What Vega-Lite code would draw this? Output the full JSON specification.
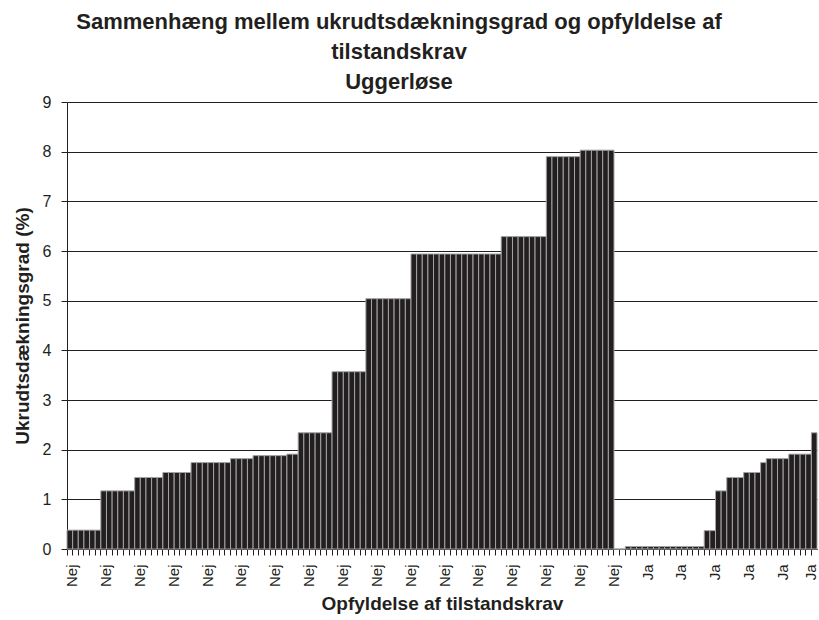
{
  "$schema": "https://vega.github.io/schema/vega-lite/v6.json",
  "width": 750,
  "height": 447,
  "autosize": "none",
  "padding": {"left": 67, "top": 102, "right": 2, "bottom": 71},
  "background": "white",
  "title": {
    "text": ["Sammenhæng mellem ukrudtsdækningsgrad og opfyldelse af", "tilstandskrav", "Uggerløse"],
    "font": "Liberation Sans",
    "fontSize": 22,
    "fontWeight": "bold",
    "color": "#231f20",
    "lineHeight": 30,
    "anchor": "middle",
    "dx": -43,
    "offset": 0
  },
  "config": {
    "view": {"stroke": null},
    "axis": {"labelFont": "Liberation Sans", "titleFont": "Liberation Sans", "labelColor": "#231f20", "titleColor": "#231f20"}
  },
  "data": {
    "values": [
      {"k": "000 Nej", "krav": "Nej", "v": 0.38},
      {"k": "001 Nej", "krav": "Nej", "v": 0.38},
      {"k": "002 Nej", "krav": "Nej", "v": 0.38},
      {"k": "003 Nej", "krav": "Nej", "v": 0.38},
      {"k": "004 Nej", "krav": "Nej", "v": 0.38},
      {"k": "005 Nej", "krav": "Nej", "v": 0.38},
      {"k": "006 Nej", "krav": "Nej", "v": 1.17},
      {"k": "007 Nej", "krav": "Nej", "v": 1.17},
      {"k": "008 Nej", "krav": "Nej", "v": 1.17},
      {"k": "009 Nej", "krav": "Nej", "v": 1.17},
      {"k": "010 Nej", "krav": "Nej", "v": 1.17},
      {"k": "011 Nej", "krav": "Nej", "v": 1.17},
      {"k": "012 Nej", "krav": "Nej", "v": 1.44},
      {"k": "013 Nej", "krav": "Nej", "v": 1.44},
      {"k": "014 Nej", "krav": "Nej", "v": 1.44},
      {"k": "015 Nej", "krav": "Nej", "v": 1.44},
      {"k": "016 Nej", "krav": "Nej", "v": 1.44},
      {"k": "017 Nej", "krav": "Nej", "v": 1.54},
      {"k": "018 Nej", "krav": "Nej", "v": 1.54},
      {"k": "019 Nej", "krav": "Nej", "v": 1.54},
      {"k": "020 Nej", "krav": "Nej", "v": 1.54},
      {"k": "021 Nej", "krav": "Nej", "v": 1.54},
      {"k": "022 Nej", "krav": "Nej", "v": 1.74},
      {"k": "023 Nej", "krav": "Nej", "v": 1.74},
      {"k": "024 Nej", "krav": "Nej", "v": 1.74},
      {"k": "025 Nej", "krav": "Nej", "v": 1.74},
      {"k": "026 Nej", "krav": "Nej", "v": 1.74},
      {"k": "027 Nej", "krav": "Nej", "v": 1.74},
      {"k": "028 Nej", "krav": "Nej", "v": 1.74},
      {"k": "029 Nej", "krav": "Nej", "v": 1.82},
      {"k": "030 Nej", "krav": "Nej", "v": 1.82},
      {"k": "031 Nej", "krav": "Nej", "v": 1.82},
      {"k": "032 Nej", "krav": "Nej", "v": 1.82},
      {"k": "033 Nej", "krav": "Nej", "v": 1.88},
      {"k": "034 Nej", "krav": "Nej", "v": 1.88},
      {"k": "035 Nej", "krav": "Nej", "v": 1.88},
      {"k": "036 Nej", "krav": "Nej", "v": 1.88},
      {"k": "037 Nej", "krav": "Nej", "v": 1.88},
      {"k": "038 Nej", "krav": "Nej", "v": 1.88},
      {"k": "039 Nej", "krav": "Nej", "v": 1.91},
      {"k": "040 Nej", "krav": "Nej", "v": 1.91},
      {"k": "041 Nej", "krav": "Nej", "v": 2.34},
      {"k": "042 Nej", "krav": "Nej", "v": 2.34},
      {"k": "043 Nej", "krav": "Nej", "v": 2.34},
      {"k": "044 Nej", "krav": "Nej", "v": 2.34},
      {"k": "045 Nej", "krav": "Nej", "v": 2.34},
      {"k": "046 Nej", "krav": "Nej", "v": 2.34},
      {"k": "047 Nej", "krav": "Nej", "v": 3.57},
      {"k": "048 Nej", "krav": "Nej", "v": 3.57},
      {"k": "049 Nej", "krav": "Nej", "v": 3.57},
      {"k": "050 Nej", "krav": "Nej", "v": 3.57},
      {"k": "051 Nej", "krav": "Nej", "v": 3.57},
      {"k": "052 Nej", "krav": "Nej", "v": 3.57},
      {"k": "053 Nej", "krav": "Nej", "v": 5.04},
      {"k": "054 Nej", "krav": "Nej", "v": 5.04},
      {"k": "055 Nej", "krav": "Nej", "v": 5.04},
      {"k": "056 Nej", "krav": "Nej", "v": 5.04},
      {"k": "057 Nej", "krav": "Nej", "v": 5.04},
      {"k": "058 Nej", "krav": "Nej", "v": 5.04},
      {"k": "059 Nej", "krav": "Nej", "v": 5.04},
      {"k": "060 Nej", "krav": "Nej", "v": 5.04},
      {"k": "061 Nej", "krav": "Nej", "v": 5.94},
      {"k": "062 Nej", "krav": "Nej", "v": 5.94},
      {"k": "063 Nej", "krav": "Nej", "v": 5.94},
      {"k": "064 Nej", "krav": "Nej", "v": 5.94},
      {"k": "065 Nej", "krav": "Nej", "v": 5.94},
      {"k": "066 Nej", "krav": "Nej", "v": 5.94},
      {"k": "067 Nej", "krav": "Nej", "v": 5.94},
      {"k": "068 Nej", "krav": "Nej", "v": 5.94},
      {"k": "069 Nej", "krav": "Nej", "v": 5.94},
      {"k": "070 Nej", "krav": "Nej", "v": 5.94},
      {"k": "071 Nej", "krav": "Nej", "v": 5.94},
      {"k": "072 Nej", "krav": "Nej", "v": 5.94},
      {"k": "073 Nej", "krav": "Nej", "v": 5.94},
      {"k": "074 Nej", "krav": "Nej", "v": 5.94},
      {"k": "075 Nej", "krav": "Nej", "v": 5.94},
      {"k": "076 Nej", "krav": "Nej", "v": 5.94},
      {"k": "077 Nej", "krav": "Nej", "v": 6.29},
      {"k": "078 Nej", "krav": "Nej", "v": 6.29},
      {"k": "079 Nej", "krav": "Nej", "v": 6.29},
      {"k": "080 Nej", "krav": "Nej", "v": 6.29},
      {"k": "081 Nej", "krav": "Nej", "v": 6.29},
      {"k": "082 Nej", "krav": "Nej", "v": 6.29},
      {"k": "083 Nej", "krav": "Nej", "v": 6.29},
      {"k": "084 Nej", "krav": "Nej", "v": 6.29},
      {"k": "085 Nej", "krav": "Nej", "v": 7.9},
      {"k": "086 Nej", "krav": "Nej", "v": 7.9},
      {"k": "087 Nej", "krav": "Nej", "v": 7.9},
      {"k": "088 Nej", "krav": "Nej", "v": 7.9},
      {"k": "089 Nej", "krav": "Nej", "v": 7.9},
      {"k": "090 Nej", "krav": "Nej", "v": 7.9},
      {"k": "091 Nej", "krav": "Nej", "v": 8.03},
      {"k": "092 Nej", "krav": "Nej", "v": 8.03},
      {"k": "093 Nej", "krav": "Nej", "v": 8.03},
      {"k": "094 Nej", "krav": "Nej", "v": 8.03},
      {"k": "095 Nej", "krav": "Nej", "v": 8.03},
      {"k": "096 Nej", "krav": "Nej", "v": 8.03},
      {"k": "097 Ja", "krav": "Ja", "v": 0},
      {"k": "098 Ja", "krav": "Ja", "v": 0},
      {"k": "099 Ja", "krav": "Ja", "v": 0.05},
      {"k": "100 Ja", "krav": "Ja", "v": 0.05},
      {"k": "101 Ja", "krav": "Ja", "v": 0.05},
      {"k": "102 Ja", "krav": "Ja", "v": 0.05},
      {"k": "103 Ja", "krav": "Ja", "v": 0.05},
      {"k": "104 Ja", "krav": "Ja", "v": 0.05},
      {"k": "105 Ja", "krav": "Ja", "v": 0.05},
      {"k": "106 Ja", "krav": "Ja", "v": 0.05},
      {"k": "107 Ja", "krav": "Ja", "v": 0.05},
      {"k": "108 Ja", "krav": "Ja", "v": 0.05},
      {"k": "109 Ja", "krav": "Ja", "v": 0.05},
      {"k": "110 Ja", "krav": "Ja", "v": 0.05},
      {"k": "111 Ja", "krav": "Ja", "v": 0.05},
      {"k": "112 Ja", "krav": "Ja", "v": 0.05},
      {"k": "113 Ja", "krav": "Ja", "v": 0.37},
      {"k": "114 Ja", "krav": "Ja", "v": 0.37},
      {"k": "115 Ja", "krav": "Ja", "v": 1.17},
      {"k": "116 Ja", "krav": "Ja", "v": 1.17},
      {"k": "117 Ja", "krav": "Ja", "v": 1.44},
      {"k": "118 Ja", "krav": "Ja", "v": 1.44},
      {"k": "119 Ja", "krav": "Ja", "v": 1.44},
      {"k": "120 Ja", "krav": "Ja", "v": 1.54},
      {"k": "121 Ja", "krav": "Ja", "v": 1.54},
      {"k": "122 Ja", "krav": "Ja", "v": 1.54},
      {"k": "123 Ja", "krav": "Ja", "v": 1.74},
      {"k": "124 Ja", "krav": "Ja", "v": 1.82},
      {"k": "125 Ja", "krav": "Ja", "v": 1.82},
      {"k": "126 Ja", "krav": "Ja", "v": 1.82},
      {"k": "127 Ja", "krav": "Ja", "v": 1.82},
      {"k": "128 Ja", "krav": "Ja", "v": 1.91},
      {"k": "129 Ja", "krav": "Ja", "v": 1.91},
      {"k": "130 Ja", "krav": "Ja", "v": 1.91},
      {"k": "131 Ja", "krav": "Ja", "v": 1.91},
      {"k": "132 Ja", "krav": "Ja", "v": 2.34}
    ]
  },
  "mark": {"type": "bar", "fill": "#231f20", "stroke": "#a3a3a3", "strokeWidth": 1},
  "encoding": {
    "x": {
      "field": "k",
      "type": "ordinal",
      "sort": null,
      "scale": {"paddingInner": 0, "paddingOuter": 0},
      "axis": {
        "title": "Opfyldelse af tilstandskrav",
        "titleFontSize": 19,
        "titleFontWeight": "bold",
        "titlePadding": 8,
        "labelExpr": "toNumber(slice(datum.value, 0, 3)) % 6 == 0 ? slice(datum.value, 4) : ''",
        "labelAngle": 270,
        "labelAlign": "right",
        "labelBaseline": "middle",
        "labelFontSize": 15,
        "labelPadding": 9,
        "labelOffset": {"condition": {"test": "datum.value == '132 Ja'", "value": -3}, "value": 2.5},
        "labelOverlap": false,
        "labelBound": false,
        "bandPosition": 0,
        "tickSize": 6,
        "tickColor": "#231f20",
        "domainColor": "#231f20",
        "grid": false
      }
    },
    "y": {
      "field": "v",
      "type": "quantitative",
      "scale": {"domain": [0, 9], "nice": false},
      "axis": {
        "title": "Ukrudtsdækningsgrad (%)",
        "titleFontSize": 19,
        "titleFontWeight": "bold",
        "titlePadding": 10,
        "values": [0, 1, 2, 3, 4, 5, 6, 7, 8, 9],
        "labelFontSize": 16,
        "labelPadding": 10,
        "tickSize": 6,
        "tickColor": "#231f20",
        "domainColor": "#231f20",
        "gridColor": "#231f20",
        "gridOpacity": 1,
        "grid": true
      }
    }
  }
}
